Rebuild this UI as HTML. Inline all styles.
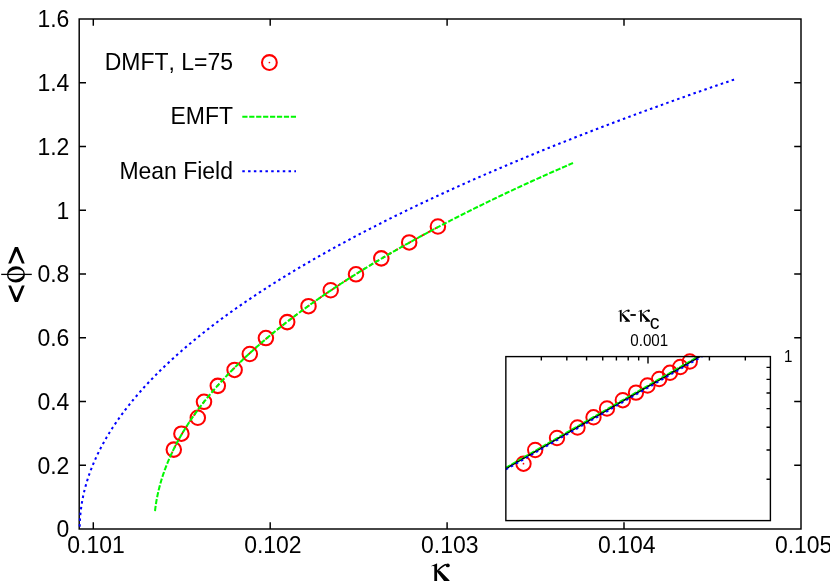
<!DOCTYPE html>
<html><head><meta charset="utf-8"><title>plot</title>
<style>html,body{margin:0;padding:0;background:#fff}svg{display:block;will-change:transform}</style></head>
<body>
<svg width="830" height="581" viewBox="0 0 830 581">
<rect width="830" height="581" fill="#fff"/>
<g fill="none" stroke="#000" stroke-width="1.45">
<rect x="79.2" y="19" width="721.8" height="510"/>
<path d="M93.3 529v-6.8M93.3 19v6.8M270.2 529v-6.8M270.2 19v6.8M447.1 529v-6.8M447.1 19v6.8M624 529v-6.8M624 19v6.8M79.2 465.25h6.8M801 465.25h-6.8M79.2 401.5h6.8M801 401.5h-6.8M79.2 337.75h6.8M801 337.75h-6.8M79.2 274h6.8M801 274h-6.8M79.2 210.25h6.8M801 210.25h-6.8M79.2 146.5h6.8M801 146.5h-6.8M79.2 82.75h6.8M801 82.75h-6.8"/>
</g>
<path d="M79.7 529 L79.7 527.87 L79.72 526.74 L79.74 525.6 L79.77 524.47 L79.8 523.34 L79.85 522.21 L79.9 521.08 L79.96 519.94 L80.03 518.81 L80.11 517.68 L80.2 516.55 L80.29 515.41 L80.39 514.28 L80.51 513.15 L80.62 512.02 L80.75 510.89 L80.89 509.75 L81.03 508.62 L81.18 507.49 L81.34 506.36 L81.51 505.23 L81.69 504.09 L81.87 502.96 L82.07 501.83 L82.27 500.7 L82.48 499.57 L82.69 498.43 L82.92 497.3 L83.15 496.17 L83.4 495.04 L83.65 493.9 L83.91 492.77 L84.17 491.64 L84.45 490.51 L84.73 489.38 L85.02 488.24 L85.32 487.11 L85.63 485.98 L85.95 484.85 L86.27 483.72 L86.61 482.58 L86.95 481.45 L87.3 480.32 L87.65 479.19 L88.02 478.06 L88.39 476.93 L88.77 475.79 L89.17 474.66 L89.56 473.53 L89.97 472.4 L90.39 471.27 L90.81 470.13 L91.24 469 L91.68 467.87 L92.13 466.74 L92.58 465.61 L93.05 464.48 L93.52 463.34 L94 462.21 L94.49 461.08 L94.99 459.95 L95.49 458.82 L96.01 457.68 L96.53 456.55 L97.06 455.42 L97.59 454.29 L98.14 453.16 L98.7 452.03 L99.26 450.89 L99.83 449.76 L100.41 448.63 L101 447.5 L101.59 446.37 L102.2 445.24 L102.81 444.11 L103.43 442.97 L104.06 441.84 L104.69 440.71 L105.34 439.58 L105.99 438.45 L106.65 437.32 L107.32 436.19 L108 435.05 L108.69 433.92 L109.38 432.79 L110.08 431.66 L110.79 430.53 L111.51 429.4 L112.24 428.27 L112.98 427.14 L113.72 426 L114.47 424.87 L115.23 423.74 L116 422.61 L116.78 421.48 L117.56 420.35 L118.35 419.22 L119.15 418.09 L119.96 416.96 L120.78 415.82 L121.61 414.69 L122.44 413.56 L123.28 412.43 L124.13 411.3 L124.99 410.17 L125.86 409.04 L126.73 407.91 L127.62 406.78 L128.51 405.65 L129.41 404.52 L130.32 403.38 L131.23 402.25 L132.16 401.12 L133.09 399.99 L134.03 398.86 L134.98 397.73 L135.94 396.6 L136.9 395.47 L137.88 394.34 L138.86 393.21 L139.85 392.08 L140.85 390.95 L141.85 389.82 L142.87 388.69 L143.89 387.56 L144.92 386.43 L145.96 385.3 L147.01 384.17 L148.06 383.04 L149.13 381.91 L150.2 380.77 L151.28 379.64 L152.37 378.51 L153.47 377.38 L154.57 376.25 L155.68 375.12 L156.81 373.99 L157.94 372.86 L159.07 371.73 L160.22 370.6 L161.37 369.47 L162.54 368.34 L163.71 367.21 L164.89 366.09 L166.07 364.96 L167.27 363.83 L168.47 362.7 L169.68 361.57 L170.9 360.44 L172.13 359.31 L173.37 358.18 L174.61 357.05 L175.87 355.92 L177.13 354.79 L178.4 353.66 L179.68 352.53 L180.96 351.4 L182.26 350.27 L183.56 349.14 L184.87 348.01 L186.19 346.88 L187.51 345.75 L188.85 344.63 L190.19 343.5 L191.54 342.37 L192.9 341.24 L194.27 340.11 L195.65 338.98 L197.03 337.85 L198.42 336.72 L199.83 335.59 L201.23 334.46 L202.65 333.34 L204.08 332.21 L205.51 331.08 L206.95 329.95 L208.4 328.82 L209.86 327.69 L211.33 326.56 L212.8 325.44 L214.29 324.31 L215.78 323.18 L217.28 322.05 L218.78 320.92 L220.3 319.79 L221.82 318.67 L223.36 317.54 L224.9 316.41 L226.45 315.28 L228 314.15 L229.57 313.03 L231.14 311.9 L232.72 310.77 L234.31 309.64 L235.91 308.51 L237.52 307.39 L239.13 306.26 L240.75 305.13 L242.39 304 L244.02 302.88 L245.67 301.75 L247.33 300.62 L248.99 299.49 L250.66 298.37 L252.34 297.24 L254.03 296.11 L255.73 294.98 L257.43 293.86 L259.15 292.73 L260.87 291.6 L262.6 290.47 L264.34 289.35 L266.08 288.22 L267.84 287.09 L269.6 285.97 L271.37 284.84 L273.15 283.71 L274.93 282.59 L276.73 281.46 L278.53 280.33 L280.34 279.21 L282.16 278.08 L283.99 276.95 L285.83 275.83 L287.67 274.7 L289.53 273.57 L291.39 272.45 L293.26 271.32 L295.13 270.19 L297.02 269.07 L298.91 267.94 L300.82 266.82 L302.73 265.69 L304.64 264.56 L306.57 263.44 L308.51 262.31 L310.45 261.19 L312.4 260.06 L314.36 258.94 L316.33 257.81 L318.3 256.68 L320.29 255.56 L322.28 254.43 L324.28 253.31 L326.29 252.18 L328.31 251.06 L330.33 249.93 L332.37 248.81 L334.41 247.68 L336.46 246.56 L338.52 245.43 L340.58 244.31 L342.66 243.18 L344.74 242.06 L346.83 240.93 L348.93 239.81 L351.04 238.68 L353.15 237.56 L355.28 236.43 L357.41 235.31 L359.55 234.18 L361.7 233.06 L363.85 231.94 L366.02 230.81 L368.19 229.69 L370.37 228.56 L372.56 227.44 L374.76 226.32 L376.97 225.19 L379.18 224.07 L381.4 222.94 L383.64 221.82 L385.87 220.7 L388.12 219.57 L390.38 218.45 L392.64 217.33 L394.91 216.2 L397.19 215.08 L399.48 213.96 L401.78 212.83 L404.08 211.71 L406.39 210.59 L408.72 209.46 L411.04 208.34 L413.38 207.22 L415.73 206.09 L418.08 204.97 L420.44 203.85 L422.81 202.73 L425.19 201.6 L427.58 200.48 L429.98 199.36 L432.38 198.24 L434.79 197.11 L437.21 195.99 L439.64 194.87 L442.07 193.75 L444.52 192.62 L446.97 191.5 L449.43 190.38 L451.9 189.26 L454.38 188.14 L456.86 187.02 L459.36 185.89 L461.86 184.77 L464.37 183.65 L466.89 182.53 L469.41 181.41 L471.95 180.29 L474.49 179.17 L477.04 178.04 L479.6 176.92 L482.17 175.8 L484.74 174.68 L487.33 173.56 L489.92 172.44 L492.52 171.32 L495.13 170.2 L497.75 169.08 L500.37 167.96 L503.01 166.84 L505.65 165.72 L508.3 164.6 L510.95 163.48 L513.62 162.35 L516.3 161.23 L518.98 160.11 L521.67 158.99 L524.37 157.87 L527.07 156.76 L529.79 155.64 L532.51 154.52 L535.25 153.4 L537.99 152.28 L540.73 151.16 L543.49 150.04 L546.26 148.92 L549.03 147.8 L551.81 146.68 L554.6 145.56 L557.4 144.44 L560.2 143.32 L563.02 142.2 L565.84 141.09 L568.67 139.97 L571.51 138.85 L574.36 137.73 L577.21 136.61 L580.07 135.49 L582.95 134.38 L585.83 133.26 L588.71 132.14 L591.61 131.02 L594.51 129.9 L597.43 128.79 L600.35 127.67 L603.28 126.55 L606.21 125.43 L609.16 124.31 L612.11 123.2 L615.07 122.08 L618.05 120.96 L621.02 119.85 L624.01 118.73 L627 117.61 L630.01 116.49 L633.02 115.38 L636.04 114.26 L639.07 113.14 L642.1 112.03 L645.15 110.91 L648.2 109.79 L651.26 108.68 L654.33 107.56 L657.41 106.45 L660.49 105.33 L663.58 104.21 L666.69 103.1 L669.8 101.98 L672.91 100.87 L676.04 99.75 L679.17 98.64 L682.32 97.52 L685.47 96.4 L688.63 95.29 L691.79 94.17 L694.97 93.06 L698.15 91.94 L701.35 90.83 L704.55 89.71 L707.75 88.6 L710.97 87.48 L714.2 86.37 L717.43 85.26 L720.67 84.14 L723.92 83.03 L727.18 81.91 L730.44 80.8 L733.72 79.68 L737 78.57" fill="none" stroke="#0000ff" stroke-width="2.05" stroke-dasharray="2.5 3.273" stroke-dashoffset="3.4"/>
<g fill="none" stroke="#ff0000" stroke-width="2.05">
<circle cx="173.8" cy="449.61" r="7.25"/>
<circle cx="181.4" cy="433.68" r="7.25"/>
<circle cx="197.8" cy="417.74" r="7.25"/>
<circle cx="204" cy="401.8" r="7.25"/>
<circle cx="217.8" cy="385.86" r="7.25"/>
<circle cx="234.6" cy="369.93" r="7.25"/>
<circle cx="249.8" cy="353.99" r="7.25"/>
<circle cx="265.9" cy="338.05" r="7.25"/>
<circle cx="287.2" cy="322.11" r="7.25"/>
<circle cx="308.5" cy="306.18" r="7.25"/>
<circle cx="330.7" cy="290.24" r="7.25"/>
<circle cx="356" cy="274.3" r="7.25"/>
<circle cx="381.3" cy="258.36" r="7.25"/>
<circle cx="409.2" cy="242.43" r="7.25"/>
<circle cx="437.9" cy="226.49" r="7.25"/>
<circle cx="269.4" cy="62.5" r="7.4"/>
</g>
<path d="M172 452.69 L172 452.68 L172.01 452.67 L172.02 452.66 L172.03 452.63 L172.04 452.6 L172.06 452.56 L172.08 452.51 L172.11 452.46 L172.14 452.4 L172.17 452.33 L172.2 452.26 L172.24 452.18 L172.28 452.09 L172.33 452 L172.38 451.89 L172.43 451.78 L172.48 451.67 L172.54 451.55 L172.6 451.42 L172.67 451.28 L172.74 451.14 L172.81 450.99 L172.89 450.83 L172.96 450.67 L173.05 450.5 L173.13 450.33 L173.22 450.14 L173.31 449.95 L173.41 449.76 L173.51 449.56 L173.61 449.35 L173.72 449.14 L173.82 448.92 L173.94 448.69 L174.05 448.46 L174.17 448.22 L174.29 447.98 L174.42 447.73 L174.55 447.47 L174.68 447.21 L174.82 446.94 L174.95 446.67 L175.1 446.39 L175.24 446.1 L175.39 445.81 L175.54 445.52 L175.7 445.22 L175.86 444.91 L176.02 444.6 L176.19 444.28 L176.36 443.96 L176.53 443.63 L176.71 443.3 L176.88 442.96 L177.07 442.62 L177.25 442.27 L177.44 441.92 L177.63 441.56 L177.83 441.2 L178.03 440.84 L178.23 440.46 L178.44 440.09 L178.65 439.71 L178.86 439.33 L179.08 438.94 L179.3 438.54 L179.52 438.15 L179.75 437.75 L179.97 437.34 L180.21 436.93 L180.44 436.52 L180.68 436.1 L180.93 435.68 L181.17 435.25 L181.42 434.82 L181.67 434.39 L181.93 433.95 L182.19 433.51 L182.45 433.07 L182.72 432.62 L182.99 432.17 L183.26 431.72 L183.54 431.26 L183.82 430.8 L184.1 430.33 L184.39 429.86 L184.68 429.39 L184.97 428.92 L185.27 428.44 L185.57 427.96 L185.87 427.48 L186.18 426.99 L186.49 426.5 L186.8 426.01 L187.12 425.51 L187.44 425.01 L187.76 424.51 L188.09 424.01 L188.42 423.5 L188.75 422.99 L189.09 422.48 L189.43 421.97 L189.77 421.45 L190.12 420.93 L190.47 420.41 L190.82 419.89 L191.18 419.36 L191.54 418.83 L191.9 418.3 L192.27 417.76 L192.64 417.23 L193.01 416.69 L193.39 416.15 L193.77 415.61 L194.15 415.06 L194.54 414.52 L194.93 413.97 L195.32 413.41 L195.72 412.86 L196.12 412.31 L196.52 411.75 L196.93 411.19 L197.34 410.63 L197.75 410.07 L198.17 409.5 L198.59 408.93 L199.02 408.37 L199.44 407.8 L199.87 407.22 L200.31 406.65 L200.74 406.08 L201.19 405.5 L201.63 404.92 L202.08 404.34 L202.53 403.76 L202.98 403.17 L203.44 402.59 L203.9 402 L204.36 401.41 L204.83 400.82 L205.3 400.23 L205.77 399.64 L206.25 399.05 L206.73 398.45 L207.22 397.85 L207.7 397.26 L208.2 396.66 L208.69 396.05 L209.19 395.45 L209.69 394.85 L210.19 394.24 L210.7 393.64 L211.21 393.03 L211.72 392.42 L212.24 391.81 L212.76 391.2 L213.29 390.59 L213.81 389.97 L214.35 389.36 L214.88 388.74 L215.42 388.13 L215.96 387.51 L216.5 386.89 L217.05 386.27 L217.6 385.65 L218.16 385.03 L218.71 384.4 L219.28 383.78 L219.84 383.15 L220.41 382.53 L220.98 381.9 L221.55 381.27 L222.13 380.64 L222.71 380.01 L223.3 379.38 L223.88 378.75 L224.48 378.12 L225.07 377.48 L225.67 376.85 L226.27 376.21 L226.87 375.58 L227.48 374.94 L228.09 374.3 L228.71 373.66 L229.33 373.02 L229.95 372.38 L230.57 371.74 L231.2 371.1 L231.83 370.45 L232.47 369.81 L233.11 369.17 L233.75 368.52 L234.39 367.87 L235.04 367.23 L235.69 366.58 L236.35 365.93 L237.01 365.28 L237.67 364.63 L238.33 363.98 L239 363.33 L239.67 362.68 L240.35 362.03 L241.03 361.38 L241.71 360.72 L242.39 360.07 L243.08 359.41 L243.77 358.76 L244.47 358.1 L245.17 357.45 L245.87 356.79 L246.57 356.13 L247.28 355.47 L247.99 354.81 L248.71 354.15 L249.43 353.49 L250.15 352.83 L250.87 352.17 L251.6 351.51 L252.33 350.85 L253.07 350.18 L253.81 349.52 L254.55 348.86 L255.3 348.19 L256.04 347.53 L256.8 346.86 L257.55 346.2 L258.31 345.53 L259.07 344.86 L259.84 344.19 L260.61 343.53 L261.38 342.86 L262.16 342.19 L262.93 341.52 L263.72 340.85 L264.5 340.18 L265.29 339.51 L266.08 338.84 L266.88 338.17 L267.68 337.49 L268.48 336.82 L269.29 336.15 L270.09 335.48 L270.91 334.8 L271.72 334.13 L272.54 333.45 L273.36 332.78 L274.19 332.1 L275.02 331.43 L275.85 330.75 L276.69 330.08 L277.53 329.4 L278.37 328.72 L279.22 328.05 L280.06 327.37 L280.92 326.69 L281.77 326.01 L282.63 325.33 L283.49 324.65 L284.36 323.97 L285.23 323.29 L286.1 322.61 L286.98 321.93 L287.86 321.25 L288.74 320.57 L289.63 319.89 L290.52 319.21 L291.41 318.53 L292.31 317.84 L293.2 317.16 L294.11 316.48 L295.01 315.79 L295.92 315.11 L296.84 314.43 L297.75 313.74 L298.67 313.06 L299.59 312.37 L300.52 311.69 L301.45 311 L302.38 310.32 L303.32 309.63 L304.26 308.95 L305.2 308.26 L306.15 307.57 L307.1 306.89 L308.05 306.2 L309.01 305.51 L309.97 304.82 L310.93 304.14 L311.9 303.45 L312.87 302.76 L313.84 302.07 L314.82 301.38 L315.8 300.69 L316.78 300 L317.77 299.31 L318.76 298.62 L319.75 297.93 L320.75 297.24 L321.75 296.55 L322.75 295.86 L323.76 295.17 L324.77 294.48 L325.78 293.79 L326.8 293.1 L327.82 292.41 L328.84 291.72 L329.87 291.02 L330.9 290.33 L331.93 289.64 L332.97 288.95 L334.01 288.25 L335.05 287.56 L336.1 286.87 L337.15 286.17 L338.2 285.48 L339.26 284.79 L340.32 284.09 L341.38 283.4 L342.45 282.7 L343.52 282.01 L344.59 281.31 L345.67 280.62 L346.75 279.92 L347.83 279.23 L348.92 278.53 L350.01 277.84 L351.11 277.14 L352.2 276.45 L353.3 275.75 L354.41 275.05 L355.51 274.36 L356.63 273.66 L357.74 272.96 L358.86 272.27 L359.98 271.57 L361.1 270.87 L362.23 270.18 L363.36 269.48 L364.49 268.78 L365.63 268.08 L366.77 267.39 L367.91 266.69 L369.06 265.99 L370.21 265.29 L371.37 264.59 L372.52 263.9 L373.69 263.2 L374.85 262.5 L376.02 261.8 L377.19 261.1 L378.36 260.4 L379.54 259.7 L380.72 259 L381.9 258.3 L383.09 257.6 L384.28 256.9 L385.48 256.2 L386.67 255.5 L387.88 254.8 L389.08 254.1 L390.29 253.4 L391.5 252.7 L392.71 252 L393.93 251.3 L395.15 250.6 L396.38 249.9 L397.6 249.2 L398.84 248.5 L400.07 247.8 L401.31 247.1 L402.55 246.4 L403.79 245.69 L405.04 244.99 L406.29 244.29 L407.55 243.59 L408.8 242.89 L410.07 242.19 L411.33 241.48 L412.6 240.78 L413.87 240.08 L415.14 239.38 L416.42 238.68 L417.7 237.97 L418.99 237.27 L420.28 236.57 L421.57 235.87 L422.86 235.16 L424.16 234.46 L425.46 233.76 L426.77 233.05 L428.08 232.35 L429.39 231.65 L430.7 230.94 L432.02 230.24 L433.34 229.54 L434.67 228.83 L436 228.13 L437.33 227.43 L438.66 226.72 L440 226.02" fill="none" stroke="#ff0000" stroke-width="1.8" stroke-dasharray="3.2 4.3" stroke-dashoffset="2"/>
<path d="M154.97 511.28 L154.97 511.26 L154.98 511.19 L154.99 511.07 L155.01 510.9 L155.04 510.69 L155.06 510.44 L155.1 510.15 L155.14 509.81 L155.18 509.44 L155.23 509.04 L155.29 508.6 L155.35 508.13 L155.41 507.62 L155.48 507.1 L155.56 506.54 L155.64 505.97 L155.73 505.37 L155.82 504.75 L155.91 504.11 L156.02 503.46 L156.12 502.79 L156.23 502.11 L156.35 501.41 L156.47 500.7 L156.6 499.97 L156.74 499.24 L156.87 498.5 L157.02 497.74 L157.17 496.98 L157.32 496.21 L157.48 495.43 L157.65 494.65 L157.82 493.86 L157.99 493.06 L158.17 492.26 L158.36 491.45 L158.55 490.64 L158.74 489.82 L158.94 489 L159.15 488.17 L159.36 487.34 L159.58 486.51 L159.8 485.67 L160.03 484.83 L160.26 483.99 L160.5 483.14 L160.74 482.29 L160.99 481.44 L161.24 480.58 L161.5 479.73 L161.77 478.87 L162.03 478.01 L162.31 477.14 L162.59 476.28 L162.87 475.41 L163.16 474.54 L163.46 473.67 L163.76 472.8 L164.06 471.93 L164.38 471.06 L164.69 470.18 L165.01 469.3 L165.34 468.42 L165.67 467.54 L166.01 466.66 L166.35 465.78 L166.7 464.9 L167.05 464.02 L167.41 463.13 L167.77 462.24 L168.14 461.36 L168.51 460.47 L168.89 459.58 L169.28 458.69 L169.67 457.8 L170.06 456.91 L170.46 456.02 L170.87 455.13 L171.28 454.24 L171.69 453.34 L172.11 452.45 L172.54 451.56 L172.97 450.66 L173.41 449.77 L173.85 448.87 L174.29 447.97 L174.75 447.08 L175.2 446.18 L175.67 445.28 L176.13 444.38 L176.61 443.49 L177.08 442.59 L177.57 441.69 L178.06 440.79 L178.55 439.89 L179.05 438.99 L179.55 438.09 L180.06 437.19 L180.58 436.28 L181.1 435.38 L181.62 434.48 L182.15 433.58 L182.69 432.67 L183.23 431.77 L183.77 430.87 L184.33 429.97 L184.88 429.06 L185.44 428.16 L186.01 427.25 L186.58 426.35 L187.16 425.44 L187.74 424.54 L188.33 423.63 L188.92 422.73 L189.52 421.82 L190.13 420.92 L190.74 420.01 L191.35 419.11 L191.97 418.2 L192.59 417.29 L193.22 416.39 L193.86 415.48 L194.5 414.57 L195.14 413.67 L195.79 412.76 L196.45 411.85 L197.11 410.94 L197.78 410.04 L198.45 409.13 L199.12 408.22 L199.81 407.31 L200.49 406.41 L201.19 405.5 L201.88 404.59 L202.59 403.68 L203.29 402.77 L204.01 401.86 L204.73 400.95 L205.45 400.05 L206.18 399.14 L206.91 398.23 L207.65 397.32 L208.4 396.41 L209.15 395.5 L209.9 394.59 L210.66 393.68 L211.43 392.77 L212.2 391.86 L212.97 390.95 L213.76 390.04 L214.54 389.13 L215.33 388.22 L216.13 387.31 L216.93 386.4 L217.74 385.49 L218.55 384.58 L219.37 383.67 L220.19 382.76 L221.02 381.85 L221.85 380.94 L222.69 380.03 L223.54 379.12 L224.39 378.21 L225.24 377.3 L226.1 376.39 L226.97 375.48 L227.84 374.57 L228.71 373.66 L229.59 372.75 L230.48 371.84 L231.37 370.93 L232.26 370.02 L233.17 369.11 L234.07 368.2 L234.98 367.28 L235.9 366.37 L236.82 365.46 L237.75 364.55 L238.68 363.64 L239.62 362.73 L240.56 361.82 L241.51 360.91 L242.47 360 L243.43 359.09 L244.39 358.18 L245.36 357.26 L246.33 356.35 L247.31 355.44 L248.3 354.53 L249.29 353.62 L250.28 352.71 L251.28 351.8 L252.29 350.89 L253.3 349.98 L254.32 349.06 L255.34 348.15 L256.37 347.24 L257.4 346.33 L258.44 345.42 L259.48 344.51 L260.53 343.6 L261.58 342.69 L262.64 341.78 L263.7 340.86 L264.77 339.95 L265.84 339.04 L266.92 338.13 L268.01 337.22 L269.09 336.31 L270.19 335.4 L271.29 334.49 L272.39 333.58 L273.51 332.66 L274.62 331.75 L275.74 330.84 L276.87 329.93 L278 329.02 L279.14 328.11 L280.28 327.2 L281.42 326.29 L282.58 325.38 L283.73 324.47 L284.9 323.55 L286.06 322.64 L287.24 321.73 L288.42 320.82 L289.6 319.91 L290.79 319 L291.98 318.09 L293.18 317.18 L294.39 316.27 L295.6 315.36 L296.81 314.45 L298.03 313.54 L299.26 312.63 L300.49 311.71 L301.72 310.8 L302.96 309.89 L304.21 308.98 L305.46 308.07 L306.72 307.16 L307.98 306.25 L309.25 305.34 L310.52 304.43 L311.8 303.52 L313.08 302.61 L314.37 301.7 L315.66 300.79 L316.96 299.88 L318.26 298.97 L319.57 298.06 L320.89 297.15 L322.21 296.24 L323.53 295.33 L324.86 294.42 L326.2 293.51 L327.54 292.6 L328.88 291.69 L330.23 290.78 L331.59 289.87 L332.95 288.96 L334.32 288.05 L335.69 287.14 L337.06 286.23 L338.45 285.32 L339.83 284.41 L341.23 283.5 L342.62 282.59 L344.03 281.68 L345.43 280.77 L346.85 279.86 L348.27 278.95 L349.69 278.04 L351.12 277.13 L352.55 276.22 L353.99 275.31 L355.44 274.41 L356.89 273.5 L358.34 272.59 L359.8 271.68 L361.27 270.77 L362.74 269.86 L364.22 268.95 L365.7 268.04 L367.19 267.13 L368.68 266.22 L370.17 265.32 L371.68 264.41 L373.18 263.5 L374.7 262.59 L376.21 261.68 L377.74 260.77 L379.27 259.86 L380.8 258.96 L382.34 258.05 L383.88 257.14 L385.43 256.23 L386.99 255.32 L388.55 254.41 L390.11 253.51 L391.68 252.6 L393.26 251.69 L394.84 250.78 L396.42 249.87 L398.02 248.97 L399.61 248.06 L401.21 247.15 L402.82 246.24 L404.43 245.33 L406.05 244.43 L407.67 243.52 L409.3 242.61 L410.93 241.7 L412.57 240.8 L414.21 239.89 L415.86 238.98 L417.52 238.08 L419.18 237.17 L420.84 236.26 L422.51 235.35 L424.18 234.45 L425.86 233.54 L427.55 232.63 L429.24 231.73 L430.94 230.82 L432.64 229.91 L434.34 229.01 L436.05 228.1 L437.77 227.19 L439.49 226.29 L441.22 225.38 L442.95 224.47 L444.69 223.57 L446.43 222.66 L448.18 221.76 L449.93 220.85 L451.69 219.94 L453.45 219.04 L455.22 218.13 L457 217.23 L458.78 216.32 L460.56 215.41 L462.35 214.51 L464.14 213.6 L465.95 212.7 L467.75 211.79 L469.56 210.89 L471.38 209.98 L473.2 209.08 L475.02 208.17 L476.86 207.27 L478.69 206.36 L480.53 205.46 L482.38 204.55 L484.23 203.65 L486.09 202.74 L487.95 201.84 L489.82 200.93 L491.7 200.03 L493.57 199.12 L495.46 198.22 L497.35 197.31 L499.24 196.41 L501.14 195.51 L503.05 194.6 L504.96 193.7 L506.87 192.79 L508.79 191.89 L510.72 190.99 L512.65 190.08 L514.58 189.18 L516.52 188.28 L518.47 187.37 L520.42 186.47 L522.38 185.56 L524.34 184.66 L526.31 183.76 L528.28 182.85 L530.26 181.95 L532.24 181.05 L534.23 180.15 L536.22 179.24 L538.22 178.34 L540.23 177.44 L542.24 176.53 L544.25 175.63 L546.27 174.73 L548.29 173.83 L550.32 172.92 L552.36 172.02 L554.4 171.12 L556.45 170.22 L558.5 169.32 L560.55 168.41 L562.61 167.51 L564.68 166.61 L566.75 165.71 L568.83 164.81 L570.91 163.91 L573 163" fill="none" stroke="#00f800" stroke-width="2.05" stroke-dasharray="5.2 1.798" stroke-dashoffset="6.75"/>
<g fill="#ff0000">
<circle cx="269.4" cy="62.5" r="0.85"/>
</g>
<path d="M242.3 116.8H296.3" stroke="#00f800" stroke-width="2.05" stroke-dasharray="5.2 1.73" fill="none"/>
<path d="M242.3 171.2H296.0" stroke="#0000ff" stroke-width="2.05" stroke-dasharray="2.5 3.28" fill="none"/>
<rect x="505.85" y="356.6" width="264.55" height="164" fill="#fff" stroke="none"/>
<g fill="none" stroke="#ff0000" stroke-width="1.95">
<circle cx="523.5" cy="463.7" r="7.2"/>
<circle cx="535.2" cy="450" r="7.2"/>
<circle cx="557" cy="438" r="7.2"/>
<circle cx="577.5" cy="427.5" r="7.2"/>
<circle cx="593.5" cy="417.3" r="7.2"/>
<circle cx="607" cy="408.5" r="7.2"/>
<circle cx="622.8" cy="400.2" r="7.2"/>
<circle cx="636" cy="392.6" r="7.2"/>
<circle cx="647.5" cy="385.5" r="7.2"/>
<circle cx="659.2" cy="379" r="7.2"/>
<circle cx="670" cy="372.8" r="7.2"/>
<circle cx="680.3" cy="367" r="7.2"/>
<circle cx="689.8" cy="361.5" r="7.2"/>
</g>
<circle cx="523.5" cy="463.7" r="0.85" fill="#ff0000"/>
<clipPath id="ic"><rect x="505.85" y="356.6" width="264.55" height="164"/></clipPath>
<g fill="none" clip-path="url(#ic)">
<path d="M506 468.4L701.5 355.44" stroke="#000" stroke-width="1.9"/>
<path d="M505.52 467.58L701.02 354.62" stroke="#00f800" stroke-width="1.35" stroke-dasharray="5.2 1.73"/>
<path d="M506 469.6L705.5 354.6" stroke="#0000ff" stroke-width="1.75" stroke-dasharray="2.5 3.28"/>
</g>
<g fill="none" stroke="#000" stroke-width="1.4">
<rect x="505.85" y="356.6" width="264.55" height="164"/>
<path d="M541.33 356.6v3.8M566.82 356.6v3.8M586.59 356.6v3.8M602.74 356.6v3.8M616.4 356.6v3.8M628.23 356.6v3.8M638.67 356.6v3.8M709.41 356.6v3.8M745.33 356.6v3.8M648 356.6v7M770.4 367.33h-3.9M770.4 379.34h-3.9M770.4 392.94h-3.9M770.4 408.65h-3.9M770.4 427.22h-3.9M770.4 449.96h-3.9M770.4 479.27h-3.9"/>
</g>
<g font-family="Liberation Sans, sans-serif" font-size="23.8" fill="#000" style="font-kerning:none">
<text transform="translate(69.3 537.4) scale(0.965 1)" text-anchor="end">0</text>
<text transform="translate(69.3 473.65) scale(0.965 1)" text-anchor="end">0.2</text>
<text transform="translate(69.3 409.9) scale(0.965 1)" text-anchor="end">0.4</text>
<text transform="translate(69.3 346.15) scale(0.965 1)" text-anchor="end">0.6</text>
<text transform="translate(69.3 282.4) scale(0.965 1)" text-anchor="end">0.8</text>
<text transform="translate(69.3 218.65) scale(0.965 1)" text-anchor="end">1</text>
<text transform="translate(69.3 154.9) scale(0.965 1)" text-anchor="end">1.2</text>
<text transform="translate(69.3 91.15) scale(0.965 1)" text-anchor="end">1.4</text>
<text transform="translate(69.3 27.4) scale(0.965 1)" text-anchor="end">1.6</text>
<text transform="translate(96 553) scale(0.965 1)" text-anchor="middle">0.101</text>
<text transform="translate(272.9 553) scale(0.965 1)" text-anchor="middle">0.102</text>
<text transform="translate(449.8 553) scale(0.965 1)" text-anchor="middle">0.103</text>
<text transform="translate(626.7 553) scale(0.965 1)" text-anchor="middle">0.104</text>
<text transform="translate(803.6 553) scale(0.965 1)" text-anchor="middle">0.105</text>
<text transform="translate(233 70) scale(0.965 1)" text-anchor="end">DMFT, L=75</text>
<text transform="translate(233 124.3) scale(0.965 1)" text-anchor="end">EMFT</text>
<text transform="translate(233 178.9) scale(0.965 1)" text-anchor="end">Mean Field</text>
<text transform="translate(649.2 346) scale(0.965 1)" text-anchor="middle" font-size="15.7">0.001</text>
<text transform="translate(788.3 362) scale(0.965 1)" text-anchor="middle" font-size="15.7">1</text>
<rect x="630.4" y="314.1" width="5.4" height="1.8"/>
<text transform="translate(649.8 329) scale(1.000 1)" text-anchor="start" font-size="19.5">c</text>
</g>
<g fill="#000" transform="translate(431.2 563.6)"><path d="M0 2.3L5.5 -0.1L5.9 0V19H3.1V2.7Q1.8 2 0.1 2.7Z"/><path d="M5.9 7.4L8.6 6.8L17.7 16.2Q18.4 17.3 19 17.6V19H10.7V17.9Q12.3 17.8 12.7 17.2L5.9 8.5Z"/><path d="M5.7 7.8C9 4.6 11.5 1.7 15.2 1.0" fill="none" stroke="#000" stroke-width="1.5"/><circle cx="16.6" cy="1.8" r="1.95"/></g>
<g fill="#000" transform="translate(617.9 309.7) scale(0.637)"><path d="M0 2.3L5.5 -0.1L5.9 0V19H3.1V2.7Q1.8 2 0.1 2.7Z"/><path d="M5.9 7.4L8.6 6.8L17.7 16.2Q18.4 17.3 19 17.6V19H10.7V17.9Q12.3 17.8 12.7 17.2L5.9 8.5Z"/><path d="M5.7 7.8C9 4.6 11.5 1.7 15.2 1.0" fill="none" stroke="#000" stroke-width="1.5"/><circle cx="16.6" cy="1.8" r="1.95"/></g>
<g fill="#000" transform="translate(638.1 309.7) scale(0.637)"><path d="M0 2.3L5.5 -0.1L5.9 0V19H3.1V2.7Q1.8 2 0.1 2.7Z"/><path d="M5.9 7.4L8.6 6.8L17.7 16.2Q18.4 17.3 19 17.6V19H10.7V17.9Q12.3 17.8 12.7 17.2L5.9 8.5Z"/><path d="M5.7 7.8C9 4.6 11.5 1.7 15.2 1.0" fill="none" stroke="#000" stroke-width="1.5"/><circle cx="16.6" cy="1.8" r="1.95"/></g>
<g fill="#000">
<path d="M8.2 263.5L14.9 247H18L24.7 263.5H21.9L16.45 251.3L11 263.5Z"/>
<path d="M8.2 285.6L14.9 302.1H18L24.7 285.6H21.9L16.45 297.8L11 285.6Z"/>
</g>
<path fill="#000" fill-rule="evenodd" d="M6.9 274.4a9.05 8.1 0 1 0 18.1 0a9.05 8.1 0 1 0 -18.1 0Z M8.45 275.7a7.6 4.5 -10 1 0 14.9 -2.6a7.6 4.5 -10 1 0 -14.9 2.6Z"/>
<path d="M1.2 274.4H31.8" stroke="#000" stroke-width="1.3" fill="none"/>
</svg>
</body></html>
